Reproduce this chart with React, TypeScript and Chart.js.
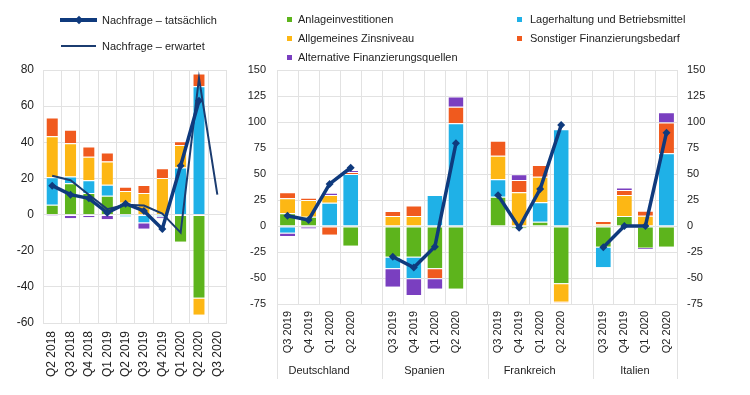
import React, { useEffect, useRef } from "react";
import { Chart, registerables } from "chart.js";

Chart.register(...registerables);

const FONT = "'Liberation Sans', Arial, sans-serif";
const TEXT = "#222222";
const GRID = "#e2e2e2";
const GREEN = "#5db41c";
const BLUE = "#1fb1e7";
const YELLOW = "#fdb714";
const RED = "#f05a1e";
const PURPLE = "#7a3fc0";
const NAVY = "#0f3a7d";
const NAVY2 = "#1b3c70";

// ---- Euro area panel (left) ----
const euroQuarters = ["Q2 2018", "Q3 2018", "Q4 2018", "Q1 2019", "Q2 2019", "Q3 2019", "Q4 2019", "Q1 2020", "Q2 2020", "Q3 2020"];
const euroAnlage = [5.5, 17.4, 11.9, 10.4, 6.5, null, null, -15, -46, null];
const euroLager = [15.1, 3.7, 7.1, 6.1, -1, -4.4, -1, 26.1, 71, null];
const euroZins = [22.7, 18.3, 13, 12.8, 6.5, 11.9, 20.2, 12.4, -9.5, null];
const euroSonstig = [10.4, 7.5, 5.6, 5.1, 2.4, 4.4, 5.5, 2.1, 7, null];
const euroAlternativ = [-0.7, -2, -1.5, -2.6, null, -3.4, -1, null, null, null];
const euroActual = [16, 11, 9, 1, 6, 2, -8, 27, 63, null];
const euroExpected = [21.5, 19, 11, 3, 5.5, 5, 0.5, -10, 75.5, 11];
const euroTicks = { min: -60, max: 80, step: 20 };

// ---- Country panel (right) ----
const countryNames = ["Deutschland", "Spanien", "Frankreich", "Italien"];
const countryQuarters = ["Q3 2019", "Q4 2019", "Q1 2020", "Q2 2020"];
// order within each: DE(4), ES(4), FR(4), IT(4)
const cAnlage = [12.2, 9, null, -18.9, -29.5, -29.5, -40.7, -60.3, 28.2, -2.2, 4.2, -55.1, -19.9, 9.6, -20.8, -19.9];
const cLager = [-6.4, null, 22.4, 50, -11.2, -20.8, 29.8, 98.7, 16.7, null, 18.6, 93, -19.8, null, null, 69.9];
const cZins = [14.4, 16, 7.4, null, 9.6, 9.6, null, null, 22.7, 32.4, 24.6, -17.7, 1.9, 20.2, 9.9, null];
const cSonstig = [5.8, 2.2, -8.5, 2, 4.8, 10, -9.6, 16, 14.4, 11.8, 11.3, -0.8, 2.9, 4.8, 4.8, 29.5];
const cAlternativ = [-3.2, -2.5, 2.2, 1.8, -17.6, -16, -10, 9.7, null, 5.5, null, null, null, 2.3, -1.2, 9.9];
const cActual = [9.9, 5.8, 40.4, 56, -29.5, -40, -19.9, 79.5, 29.5, -1.6, 35.6, 97, -20.5, 0, 0, 89.7];
const countryTicks = { min: -75, max: 150, step: 25 };

function withGaps<T>(values: T[], gap: T): T[] {
  const out: T[] = [];
  for (let g = 0; g < countryNames.length; g++) {
    for (let q = 0; q < countryQuarters.length; q++) out.push(values[g * countryQuarters.length + q]);
    if (g < countryNames.length - 1) out.push(gap);
  }
  return out;
}

const slotLabels = withGaps(
  countryNames.flatMap(() => countryQuarters),
  ""
);

const barStyle = (color: string) => ({
  backgroundColor: color,
  borderColor: "rgba(255,255,255,0.85)",
  borderWidth: { top: 1, bottom: 0, left: 0, right: 0 },
  borderSkipped: false as const,
  stack: "bars",
  order: 1,
});

const groupPlugin = {
  id: "countryGroups",
  afterDraw(chart: any) {
    const x = chart.scales.x;
    const ctx = chart.ctx;
    const area = chart.chartArea;
    const half = (x.getPixelForValue(1) - x.getPixelForValue(0)) / 2;
    ctx.save();
    ctx.strokeStyle = GRID;
    ctx.lineWidth = 1;
    ctx.fillStyle = TEXT;
    ctx.font = `11px ${FONT}`;
    ctx.textAlign = "center";
    ctx.textBaseline = "middle";
    const per = countryQuarters.length + 1;
    const edges: number[] = [];
    countryNames.forEach((name, gi) => {
      const s = gi * per;
      edges.push(x.getPixelForValue(s) - half);
      const center = (x.getPixelForValue(s) + x.getPixelForValue(s + countryQuarters.length - 1)) / 2;
      ctx.fillText(name, center, 371);
    });
    edges.push(area.right);
    edges.forEach((e) => {
      const px = Math.round(e) + 0.5;
      ctx.beginPath();
      ctx.moveTo(px, area.bottom);
      ctx.lineTo(px, 379);
      ctx.stroke();
    });
    ctx.restore();
  },
};

export default function App() {
  const leftRef = useRef<HTMLCanvasElement>(null);
  const rightRef = useRef<HTMLCanvasElement>(null);

  useEffect(() => {
    const tickFontL = { family: FONT, size: 12 };
    const tickFontR = { family: FONT, size: 11 };

    const left = new Chart(leftRef.current!, {
      type: "bar",
      data: {
        labels: euroQuarters,
        datasets: [
          {
            type: "line",
            label: "Nachfrage – tatsächlich",
            data: euroActual,
            borderColor: NAVY,
            backgroundColor: NAVY,
            borderWidth: 3.5,
            pointStyle: "rectRot",
            pointRadius: 4,
            pointBorderWidth: 0,
            pointBackgroundColor: NAVY,
            tension: 0,
            order: 0,
            stack: "l1",
          } as any,
          {
            type: "line",
            label: "Nachfrage – erwartet",
            data: euroExpected,
            borderColor: NAVY2,
            borderWidth: 2,
            pointRadius: 0,
            tension: 0,
            order: 0,
            stack: "l2",
          } as any,
          { label: "Anlageinvestitionen", data: euroAnlage, ...barStyle(GREEN) },
          { label: "Lagerhaltung und Betriebsmittel", data: euroLager, ...barStyle(BLUE) },
          { label: "Allgemeines Zinsniveau", data: euroZins, ...barStyle(YELLOW) },
          { label: "Sonstiger Finanzierungsbedarf", data: euroSonstig, ...barStyle(RED) },
          { label: "Alternative Finanzierungsquellen", data: euroAlternativ, ...barStyle(PURPLE) },
        ],
      },
      options: {
        responsive: false,
        maintainAspectRatio: false,
        animation: false,
        layout: { padding: { top: 70, left: 0, right: 5, bottom: 0 } },
        datasets: { bar: { categoryPercentage: 1, barPercentage: 0.62 } },
        plugins: { legend: { display: false }, tooltip: { enabled: false } },
        scales: {
          x: {
            stacked: true,
            offset: true,
            grid: { color: GRID, offset: true, drawTicks: false },
            border: { color: GRID },
            ticks: { font: tickFontL, color: TEXT, padding: 8, minRotation: 90, maxRotation: 90, autoSkip: false },
            afterFit: (s: any) => { s.height = 72; },
          },
          y: {
            stacked: true,
            min: euroTicks.min,
            max: euroTicks.max,
            ticks: { stepSize: euroTicks.step, font: tickFontL, color: TEXT, padding: 9 },
            grid: { color: GRID, drawTicks: false },
            border: { display: false },
            afterFit: (s: any) => { s.width = 43; },
          },
        },
      } as any,
    });

    const right = new Chart(rightRef.current!, {
      type: "bar",
      data: {
        labels: slotLabels,
        datasets: [
          {
            type: "line",
            label: "Nachfrage – tatsächlich",
            data: withGaps(cActual, null as any),
            borderColor: NAVY,
            backgroundColor: NAVY,
            borderWidth: 3.5,
            pointStyle: "rectRot",
            pointRadius: 4,
            pointBorderWidth: 0,
            pointBackgroundColor: NAVY,
            tension: 0,
            spanGaps: false,
            order: 0,
            stack: "l1",
          } as any,
          { label: "Anlageinvestitionen", data: withGaps(cAnlage, null as any), ...barStyle(GREEN) },
          { label: "Lagerhaltung und Betriebsmittel", data: withGaps(cLager, null as any), ...barStyle(BLUE) },
          { label: "Allgemeines Zinsniveau", data: withGaps(cZins, null as any), ...barStyle(YELLOW) },
          { label: "Sonstiger Finanzierungsbedarf", data: withGaps(cSonstig, null as any), ...barStyle(RED) },
          { label: "Alternative Finanzierungsquellen", data: withGaps(cAlternativ, null as any), ...barStyle(PURPLE) },
        ],
      },
      options: {
        responsive: false,
        maintainAspectRatio: false,
        animation: false,
        layout: { padding: { top: 70, left: 0, right: 33, bottom: 0 } },
        datasets: { bar: { categoryPercentage: 1, barPercentage: 0.71 } },
        plugins: { legend: { display: false }, tooltip: { enabled: false } },
        scales: {
          x: {
            stacked: true,
            offset: true,
            grid: { color: GRID, offset: true, drawTicks: false },
            border: { color: GRID },
            ticks: { font: tickFontR, color: TEXT, padding: 7, minRotation: 90, maxRotation: 90, autoSkip: false },
            afterFit: (s: any) => { s.height = 91; },
          },
          y: {
            stacked: true,
            position: "left",
            min: countryTicks.min,
            max: countryTicks.max,
            ticks: { stepSize: countryTicks.step, font: tickFontR, color: TEXT, padding: 11 },
            grid: { color: GRID, drawTicks: false },
            border: { display: false },
            afterFit: (s: any) => { s.width = 37; },
          },
          y2: {
            position: "right",
            min: countryTicks.min,
            max: countryTicks.max,
            ticks: { stepSize: countryTicks.step, font: tickFontR, color: TEXT, padding: 10 },
            grid: { display: false, drawTicks: false },
            border: { display: false },
            afterFit: (s: any) => { s.width = 40; },
          },
        },
      } as any,
      plugins: [groupPlugin],
    });

    return () => {
      left.destroy();
      right.destroy();
    };
  }, []);

  const textStyle: React.CSSProperties = {
    position: "absolute",
    fontFamily: FONT,
    fontSize: 11,
    lineHeight: "14px",
    color: TEXT,
    whiteSpace: "nowrap",
  };
  const square = (x: number, y: number, c: string) => (
    <div style={{ position: "absolute", left: x, top: y - 2.5, width: 5, height: 5, background: c }} />
  );

  return (
    <div style={{ position: "absolute", left: 0, top: 0, width: 750, height: 395, background: "#fff", overflow: "hidden" }}>
      <canvas ref={leftRef} width={240} height={395} style={{ position: "absolute", left: 0, top: 0, width: 240, height: 395 }} />
      <canvas ref={rightRef} width={510} height={395} style={{ position: "absolute", left: 240, top: 0, width: 510, height: 395 }} />

      <div style={{ position: "absolute", left: 60, top: 18, width: 37, height: 4, background: NAVY }} />
      <div style={{ position: "absolute", left: 76, top: 17, width: 6, height: 6, background: NAVY, transform: "rotate(45deg)" }} />
      <div style={{ ...textStyle, left: 102, top: 13 }}>Nachfrage – tatsächlich</div>
      <div style={{ position: "absolute", left: 61, top: 45, width: 35, height: 2, background: NAVY2 }} />
      <div style={{ ...textStyle, left: 102, top: 39 }}>Nachfrage – erwartet</div>

      {square(287, 19, GREEN)}
      <div style={{ ...textStyle, left: 298, top: 12 }}>Anlageinvestitionen</div>
      {square(287, 38, YELLOW)}
      <div style={{ ...textStyle, left: 298, top: 31 }}>Allgemeines Zinsniveau</div>
      {square(287, 57, PURPLE)}
      <div style={{ ...textStyle, left: 298, top: 50 }}>Alternative Finanzierungsquellen</div>

      {square(517, 19, BLUE)}
      <div style={{ ...textStyle, left: 530, top: 12 }}>Lagerhaltung und Betriebsmittel</div>
      {square(517, 38, RED)}
      <div style={{ ...textStyle, left: 530, top: 31 }}>Sonstiger Finanzierungsbedarf</div>
    </div>
  );
}
